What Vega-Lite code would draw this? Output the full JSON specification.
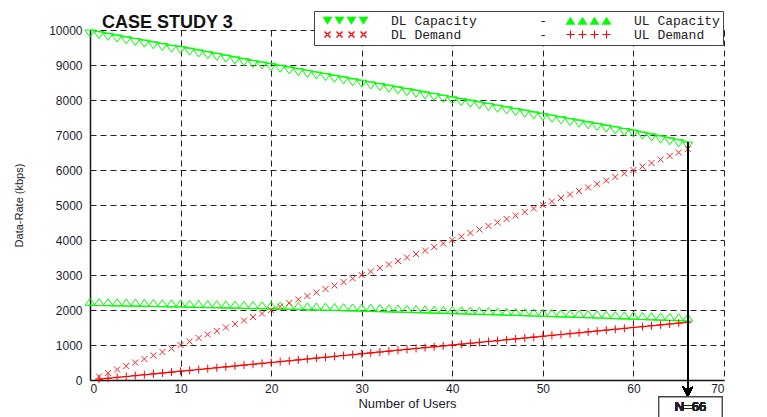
{
  "$schema": "https://vega.github.io/schema/vega-lite/v6.json",
  "width": 634,
  "height": 350,
  "autosize": {"type": "none"},
  "padding": {"left": 90, "top": 30, "right": 43, "bottom": 37},
  "background": "white",
  "title": {"text": "CASE STUDY 3", "anchor": "start", "frame": "group", "dx": 12, "offset": -21, "font": "Liberation Sans", "fontSize": 18, "fontWeight": "bold", "color": "#111"},
  "config": {"view": {"stroke": null}, "font": "Liberation Sans"},
  "data": {"values": [
    {"n":0,"s":"DL Capacity","v":10000},{"n":1,"s":"DL Capacity","v":9952},{"n":2,"s":"DL Capacity","v":9903},{"n":3,"s":"DL Capacity","v":9855},{"n":4,"s":"DL Capacity","v":9806},{"n":5,"s":"DL Capacity","v":9758},{"n":6,"s":"DL Capacity","v":9709},{"n":7,"s":"DL Capacity","v":9661},{"n":8,"s":"DL Capacity","v":9612},{"n":9,"s":"DL Capacity","v":9564},{"n":10,"s":"DL Capacity","v":9530},
    {"n":11,"s":"DL Capacity","v":9480},{"n":12,"s":"DL Capacity","v":9430},{"n":13,"s":"DL Capacity","v":9380},{"n":14,"s":"DL Capacity","v":9330},{"n":15,"s":"DL Capacity","v":9280},{"n":16,"s":"DL Capacity","v":9230},{"n":17,"s":"DL Capacity","v":9180},{"n":18,"s":"DL Capacity","v":9130},{"n":19,"s":"DL Capacity","v":9085},{"n":20,"s":"DL Capacity","v":9040},
    {"n":21,"s":"DL Capacity","v":8990},{"n":22,"s":"DL Capacity","v":8945},{"n":23,"s":"DL Capacity","v":8895},{"n":24,"s":"DL Capacity","v":8850},{"n":25,"s":"DL Capacity","v":8800},{"n":26,"s":"DL Capacity","v":8755},{"n":27,"s":"DL Capacity","v":8705},{"n":28,"s":"DL Capacity","v":8660},{"n":29,"s":"DL Capacity","v":8610},{"n":30,"s":"DL Capacity","v":8565},
    {"n":31,"s":"DL Capacity","v":8515},{"n":32,"s":"DL Capacity","v":8470},{"n":33,"s":"DL Capacity","v":8420},{"n":34,"s":"DL Capacity","v":8375},{"n":35,"s":"DL Capacity","v":8325},{"n":36,"s":"DL Capacity","v":8280},{"n":37,"s":"DL Capacity","v":8230},{"n":38,"s":"DL Capacity","v":8185},{"n":39,"s":"DL Capacity","v":8135},{"n":40,"s":"DL Capacity","v":8090},
    {"n":41,"s":"DL Capacity","v":8040},{"n":42,"s":"DL Capacity","v":7995},{"n":43,"s":"DL Capacity","v":7945},{"n":44,"s":"DL Capacity","v":7900},{"n":45,"s":"DL Capacity","v":7850},{"n":46,"s":"DL Capacity","v":7805},{"n":47,"s":"DL Capacity","v":7755},{"n":48,"s":"DL Capacity","v":7710},{"n":49,"s":"DL Capacity","v":7660},{"n":50,"s":"DL Capacity","v":7615},
    {"n":51,"s":"DL Capacity","v":7565},{"n":52,"s":"DL Capacity","v":7520},{"n":53,"s":"DL Capacity","v":7470},{"n":54,"s":"DL Capacity","v":7425},{"n":55,"s":"DL Capacity","v":7375},{"n":56,"s":"DL Capacity","v":7330},{"n":57,"s":"DL Capacity","v":7280},{"n":58,"s":"DL Capacity","v":7235},{"n":59,"s":"DL Capacity","v":7185},{"n":60,"s":"DL Capacity","v":7140},
    {"n":61,"s":"DL Capacity","v":7085},{"n":62,"s":"DL Capacity","v":7030},{"n":63,"s":"DL Capacity","v":6975},{"n":64,"s":"DL Capacity","v":6920},{"n":65,"s":"DL Capacity","v":6865},{"n":66,"s":"DL Capacity","v":6800},

    {"n":0,"s":"UL Capacity","v":2134},{"n":1,"s":"UL Capacity","v":2129},{"n":2,"s":"UL Capacity","v":2125},{"n":3,"s":"UL Capacity","v":2120},{"n":4,"s":"UL Capacity","v":2115},{"n":5,"s":"UL Capacity","v":2111},{"n":6,"s":"UL Capacity","v":2106},{"n":7,"s":"UL Capacity","v":2101},{"n":8,"s":"UL Capacity","v":2096},{"n":9,"s":"UL Capacity","v":2091},{"n":10,"s":"UL Capacity","v":2086},
    {"n":11,"s":"UL Capacity","v":2080},{"n":12,"s":"UL Capacity","v":2075},{"n":13,"s":"UL Capacity","v":2070},{"n":14,"s":"UL Capacity","v":2064},{"n":15,"s":"UL Capacity","v":2059},{"n":16,"s":"UL Capacity","v":2053},{"n":17,"s":"UL Capacity","v":2047},{"n":18,"s":"UL Capacity","v":2042},{"n":19,"s":"UL Capacity","v":2036},{"n":20,"s":"UL Capacity","v":2030},
    {"n":21,"s":"UL Capacity","v":2024},{"n":22,"s":"UL Capacity","v":2018},{"n":23,"s":"UL Capacity","v":2012},{"n":24,"s":"UL Capacity","v":2006},{"n":25,"s":"UL Capacity","v":2000},{"n":26,"s":"UL Capacity","v":1993},{"n":27,"s":"UL Capacity","v":1987},{"n":28,"s":"UL Capacity","v":1981},{"n":29,"s":"UL Capacity","v":1974},{"n":30,"s":"UL Capacity","v":1968},
    {"n":31,"s":"UL Capacity","v":1961},{"n":32,"s":"UL Capacity","v":1954},{"n":33,"s":"UL Capacity","v":1947},{"n":34,"s":"UL Capacity","v":1941},{"n":35,"s":"UL Capacity","v":1934},{"n":36,"s":"UL Capacity","v":1927},{"n":37,"s":"UL Capacity","v":1920},{"n":38,"s":"UL Capacity","v":1912},{"n":39,"s":"UL Capacity","v":1905},{"n":40,"s":"UL Capacity","v":1898},
    {"n":41,"s":"UL Capacity","v":1891},{"n":42,"s":"UL Capacity","v":1883},{"n":43,"s":"UL Capacity","v":1876},{"n":44,"s":"UL Capacity","v":1868},{"n":45,"s":"UL Capacity","v":1861},{"n":46,"s":"UL Capacity","v":1853},{"n":47,"s":"UL Capacity","v":1845},{"n":48,"s":"UL Capacity","v":1837},{"n":49,"s":"UL Capacity","v":1829},{"n":50,"s":"UL Capacity","v":1822},
    {"n":51,"s":"UL Capacity","v":1813},{"n":52,"s":"UL Capacity","v":1805},{"n":53,"s":"UL Capacity","v":1797},{"n":54,"s":"UL Capacity","v":1789},{"n":55,"s":"UL Capacity","v":1781},{"n":56,"s":"UL Capacity","v":1772},{"n":57,"s":"UL Capacity","v":1764},{"n":58,"s":"UL Capacity","v":1755},{"n":59,"s":"UL Capacity","v":1747},{"n":60,"s":"UL Capacity","v":1738},
    {"n":61,"s":"UL Capacity","v":1729},{"n":62,"s":"UL Capacity","v":1720},{"n":63,"s":"UL Capacity","v":1712},{"n":64,"s":"UL Capacity","v":1703},{"n":65,"s":"UL Capacity","v":1694},{"n":66,"s":"UL Capacity","v":1685},

    {"n":1,"s":"DL Demand","v":100},{"n":2,"s":"DL Demand","v":200},{"n":3,"s":"DL Demand","v":300},{"n":4,"s":"DL Demand","v":400},{"n":5,"s":"DL Demand","v":500},{"n":6,"s":"DL Demand","v":600},{"n":7,"s":"DL Demand","v":700},{"n":8,"s":"DL Demand","v":800},{"n":9,"s":"DL Demand","v":900},{"n":10,"s":"DL Demand","v":1000},
    {"n":11,"s":"DL Demand","v":1100},{"n":12,"s":"DL Demand","v":1200},{"n":13,"s":"DL Demand","v":1300},{"n":14,"s":"DL Demand","v":1400},{"n":15,"s":"DL Demand","v":1500},{"n":16,"s":"DL Demand","v":1600},{"n":17,"s":"DL Demand","v":1700},{"n":18,"s":"DL Demand","v":1800},{"n":19,"s":"DL Demand","v":1900},{"n":20,"s":"DL Demand","v":2000},
    {"n":21,"s":"DL Demand","v":2100},{"n":22,"s":"DL Demand","v":2200},{"n":23,"s":"DL Demand","v":2300},{"n":24,"s":"DL Demand","v":2400},{"n":25,"s":"DL Demand","v":2500},{"n":26,"s":"DL Demand","v":2600},{"n":27,"s":"DL Demand","v":2700},{"n":28,"s":"DL Demand","v":2800},{"n":29,"s":"DL Demand","v":2900},{"n":30,"s":"DL Demand","v":3000},
    {"n":31,"s":"DL Demand","v":3100},{"n":32,"s":"DL Demand","v":3200},{"n":33,"s":"DL Demand","v":3300},{"n":34,"s":"DL Demand","v":3400},{"n":35,"s":"DL Demand","v":3500},{"n":36,"s":"DL Demand","v":3600},{"n":37,"s":"DL Demand","v":3700},{"n":38,"s":"DL Demand","v":3800},{"n":39,"s":"DL Demand","v":3900},{"n":40,"s":"DL Demand","v":4000},
    {"n":41,"s":"DL Demand","v":4100},{"n":42,"s":"DL Demand","v":4200},{"n":43,"s":"DL Demand","v":4300},{"n":44,"s":"DL Demand","v":4400},{"n":45,"s":"DL Demand","v":4500},{"n":46,"s":"DL Demand","v":4600},{"n":47,"s":"DL Demand","v":4700},{"n":48,"s":"DL Demand","v":4800},{"n":49,"s":"DL Demand","v":4900},{"n":50,"s":"DL Demand","v":5000},
    {"n":51,"s":"DL Demand","v":5100},{"n":52,"s":"DL Demand","v":5200},{"n":53,"s":"DL Demand","v":5300},{"n":54,"s":"DL Demand","v":5400},{"n":55,"s":"DL Demand","v":5500},{"n":56,"s":"DL Demand","v":5600},{"n":57,"s":"DL Demand","v":5700},{"n":58,"s":"DL Demand","v":5800},{"n":59,"s":"DL Demand","v":5900},{"n":60,"s":"DL Demand","v":6000},
    {"n":61,"s":"DL Demand","v":6100},{"n":62,"s":"DL Demand","v":6200},{"n":63,"s":"DL Demand","v":6300},{"n":64,"s":"DL Demand","v":6400},{"n":65,"s":"DL Demand","v":6500},{"n":66,"s":"DL Demand","v":6600},

    {"n":1,"s":"UL Demand","v":25},{"n":2,"s":"UL Demand","v":50},{"n":3,"s":"UL Demand","v":75},{"n":4,"s":"UL Demand","v":100},{"n":5,"s":"UL Demand","v":125},{"n":6,"s":"UL Demand","v":150},{"n":7,"s":"UL Demand","v":175},{"n":8,"s":"UL Demand","v":200},{"n":9,"s":"UL Demand","v":225},{"n":10,"s":"UL Demand","v":250},
    {"n":11,"s":"UL Demand","v":275},{"n":12,"s":"UL Demand","v":300},{"n":13,"s":"UL Demand","v":325},{"n":14,"s":"UL Demand","v":350},{"n":15,"s":"UL Demand","v":375},{"n":16,"s":"UL Demand","v":400},{"n":17,"s":"UL Demand","v":425},{"n":18,"s":"UL Demand","v":450},{"n":19,"s":"UL Demand","v":475},{"n":20,"s":"UL Demand","v":500},
    {"n":21,"s":"UL Demand","v":525},{"n":22,"s":"UL Demand","v":550},{"n":23,"s":"UL Demand","v":575},{"n":24,"s":"UL Demand","v":600},{"n":25,"s":"UL Demand","v":625},{"n":26,"s":"UL Demand","v":650},{"n":27,"s":"UL Demand","v":675},{"n":28,"s":"UL Demand","v":700},{"n":29,"s":"UL Demand","v":725},{"n":30,"s":"UL Demand","v":750},
    {"n":31,"s":"UL Demand","v":775},{"n":32,"s":"UL Demand","v":800},{"n":33,"s":"UL Demand","v":825},{"n":34,"s":"UL Demand","v":850},{"n":35,"s":"UL Demand","v":875},{"n":36,"s":"UL Demand","v":900},{"n":37,"s":"UL Demand","v":925},{"n":38,"s":"UL Demand","v":950},{"n":39,"s":"UL Demand","v":975},{"n":40,"s":"UL Demand","v":1000},
    {"n":41,"s":"UL Demand","v":1025},{"n":42,"s":"UL Demand","v":1050},{"n":43,"s":"UL Demand","v":1075},{"n":44,"s":"UL Demand","v":1100},{"n":45,"s":"UL Demand","v":1125},{"n":46,"s":"UL Demand","v":1150},{"n":47,"s":"UL Demand","v":1175},{"n":48,"s":"UL Demand","v":1200},{"n":49,"s":"UL Demand","v":1225},{"n":50,"s":"UL Demand","v":1250},
    {"n":51,"s":"UL Demand","v":1275},{"n":52,"s":"UL Demand","v":1300},{"n":53,"s":"UL Demand","v":1325},{"n":54,"s":"UL Demand","v":1350},{"n":55,"s":"UL Demand","v":1375},{"n":56,"s":"UL Demand","v":1400},{"n":57,"s":"UL Demand","v":1425},{"n":58,"s":"UL Demand","v":1450},{"n":59,"s":"UL Demand","v":1475},{"n":60,"s":"UL Demand","v":1500},
    {"n":61,"s":"UL Demand","v":1525},{"n":62,"s":"UL Demand","v":1550},{"n":63,"s":"UL Demand","v":1575},{"n":64,"s":"UL Demand","v":1600},{"n":65,"s":"UL Demand","v":1625},{"n":66,"s":"UL Demand","v":1650}
  ]},
  "encoding": {
    "x": {"field": "n", "type": "quantitative", "scale": {"domain": [0, 70], "nice": false},
      "axis": {"title": "Number of Users", "values": [0,10,20,30,40,50,60,70], "ticks": false, "labelPadding": 3, "labelFont": "Liberation Sans", "labelFontSize": 12, "labelColor": "#1c1c30", "titleFont": "Liberation Sans", "titleFontSize": 13, "titleFontWeight": "normal", "titleColor": "#1c1c30", "titlePadding": 3, "domainColor": "#111", "domainWidth": 1.5, "gridColor": "#222", "gridDash": [6, 4], "gridWidth": 1, "gridOpacity": 1}},
    "y": {"field": "v", "type": "quantitative", "scale": {"domain": [0, 10000], "nice": false},
      "axis": {"title": "Data-Rate (kbps)", "values": [0,1000,2000,3000,4000,5000,6000,7000,8000,9000,10000], "format": "d", "ticks": false, "labelPadding": 8, "labelFont": "Liberation Sans", "labelFontSize": 12, "labelColor": "#1c1c30", "titleFont": "Liberation Sans", "titleFontSize": 11, "titleFontWeight": "normal", "titleColor": "#1c1c30", "titlePadding": 24, "domainColor": "#111", "domainWidth": 1.5, "gridColor": "#222", "gridDash": [6, 4], "gridWidth": 1, "gridOpacity": 1}}
  },
  "layer": [
    {
      "transform": [{"filter": "datum.s != 'DL Demand'"}],
      "mark": {"type": "line", "strokeWidth": 1.2},
      "encoding": {
        "detail": {"field": "s"},
        "color": {"field": "s", "type": "nominal", "scale": {"domain": ["DL Capacity", "UL Capacity", "DL Demand", "UL Demand"], "range": ["#00ff00", "#00ff00", "#ff0000", "#ff0000"]}, "legend": null}
      }
    },
    {
      "mark": {"type": "point", "filled": false, "opacity": 1, "strokeWidth": 1, "size": 100},
      "encoding": {
        "color": {"field": "s", "type": "nominal", "scale": {"domain": ["DL Capacity", "UL Capacity", "DL Demand", "UL Demand"], "range": ["#00ff00", "#00ff00", "#ff2020", "#ff0000"]}, "legend": null},
        "shape": {"field": "s", "type": "nominal", "scale": {"domain": ["DL Capacity", "UL Capacity", "DL Demand", "UL Demand"], "range": ["M-1,0L1,0L0,1.4Z", "M-1,0L1,0L0,-1.4Z", "M-0.6,-0.6L0.6,0.6M-0.6,0.6L0.6,-0.6", "M-0.8,0L0.8,0M0,-0.8L0,0.8"]}, "legend": null}
      }
    },
    {
      "transform": [{"filter": "datum.n < 0"}],
      "mark": {"type": "point", "filled": true, "opacity": 1, "size": 100},
      "encoding": {
        "color": {"field": "s", "type": "nominal", "scale": {"domain": ["DL Capacity", "UL Capacity", "DL Demand", "UL Demand"], "range": ["#00ff00", "#00ff00", "#ff0000", "#ff0000"]},
          "legend": {"title": null, "orient": "none", "direction": "horizontal", "legendX": 224, "legendY": -19, "columns": 2, "columnPadding": 12, "rowPadding": -2, "clipHeight": 13, "padding": 3, "symbolSize": 100, "symbolOffset": 22, "symbolOpacity": 1, "symbolStrokeWidth": 0, "labelOffset": 39, "labelFont": "Liberation Mono", "labelFontSize": 13, "labelColor": "#222", "strokeColor": "#444", "fillColor": "white", "labelLimit": 400,
            "labelExpr": "datum.value == 'DL Capacity' ? 'DL Capacity\u00a0\u00a0\u00a0\u00a0\u00a0\u00a0\u00a0\u00a0-' : datum.value == 'DL Demand' ? 'DL Demand\u00a0\u00a0\u00a0\u00a0\u00a0\u00a0\u00a0\u00a0\u00a0\u00a0-' : datum.label"}},
        "shape": {"field": "s", "type": "nominal", "scale": {"domain": ["DL Capacity", "UL Capacity", "DL Demand", "UL Demand"], "range": [
          "M-4.6,-0.8L-2.6,-0.8L-3.6,0.8ZM-2.2,-0.8L-0.2,-0.8L-1.2,0.8ZM0.2,-0.8L2.2,-0.8L1.2,0.8ZM2.6,-0.8L4.6,-0.8L3.6,0.8Z",
          "M-4.6,0.8L-2.6,0.8L-3.6,-0.8ZM-2.2,0.8L-0.2,0.8L-1.2,-0.8ZM0.2,0.8L2.2,0.8L1.2,-0.8ZM2.6,0.8L4.6,0.8L3.6,-0.8Z",
          "M-4.3,-0.5L-4.1,-0.7L-2.9,0.5L-3.1,0.7ZM-2.9,-0.5L-3.1,-0.7L-4.3,0.5L-4.1,0.7ZM-1.9,-0.5L-1.7,-0.7L-0.5,0.5L-0.7,0.7ZM-0.5,-0.5L-0.7,-0.7L-1.9,0.5L-1.7,0.7ZM0.5,-0.5L0.7,-0.7L1.9,0.5L1.7,0.7ZM1.9,-0.5L1.7,-0.7L0.5,0.5L0.7,0.7ZM2.9,-0.5L3.1,-0.7L4.3,0.5L4.1,0.7ZM4.3,-0.5L4.1,-0.7L2.9,0.5L3.1,0.7Z",
          "M-4.4,-0.1L-2.8,-0.1L-2.8,0.1L-4.4,0.1ZM-3.7,-0.8L-3.5,-0.8L-3.5,0.8L-3.7,0.8ZM-2.0,-0.1L-0.4,-0.1L-0.4,0.1L-2.0,0.1ZM-1.3,-0.8L-1.1,-0.8L-1.1,0.8L-1.3,0.8ZM0.4,-0.1L2.0,-0.1L2.0,0.1L0.4,0.1ZM1.1,-0.8L1.3,-0.8L1.3,0.8L1.1,0.8ZM2.8,-0.1L4.4,-0.1L4.4,0.1L2.8,0.1ZM3.5,-0.8L3.7,-0.8L3.7,0.8L3.5,0.8Z"
        ]}}
      }
    },
    {
      "mark": {"type": "rule", "color": "black", "strokeWidth": 1.3},
      "encoding": {"x": {"datum": 66, "type": "quantitative"}, "y": {"datum": 6800, "type": "quantitative"}, "y2": {"datum": -420}}
    },
    {
      "mark": {"type": "point", "shape": "M-1,-1L0,1L1,-1L0,-0.3Z", "filled": true, "color": "black", "opacity": 1, "size": 110},
      "encoding": {"x": {"datum": 66, "type": "quantitative"}, "y": {"datum": -330, "type": "quantitative"}}
    },
    {
      "mark": {"type": "rect", "fill": "white", "stroke": "#444", "strokeWidth": 1.2},
      "encoding": {"x": {"datum": 62.8, "type": "quantitative"}, "x2": {"datum": 69.8}, "y": {"datum": -486, "type": "quantitative"}, "y2": {"datum": -1400}}
    },
    {
      "mark": {"type": "text", "text": "N=66", "font": "Liberation Sans", "fontSize": 13, "color": "#222", "align": "center", "baseline": "middle"},
      "encoding": {"x": {"datum": 66.3, "type": "quantitative"}, "y": {"datum": -771, "type": "quantitative"}}
    }
  ],
  "resolve": {"scale": {"shape": "independent", "color": "independent"}}
}
